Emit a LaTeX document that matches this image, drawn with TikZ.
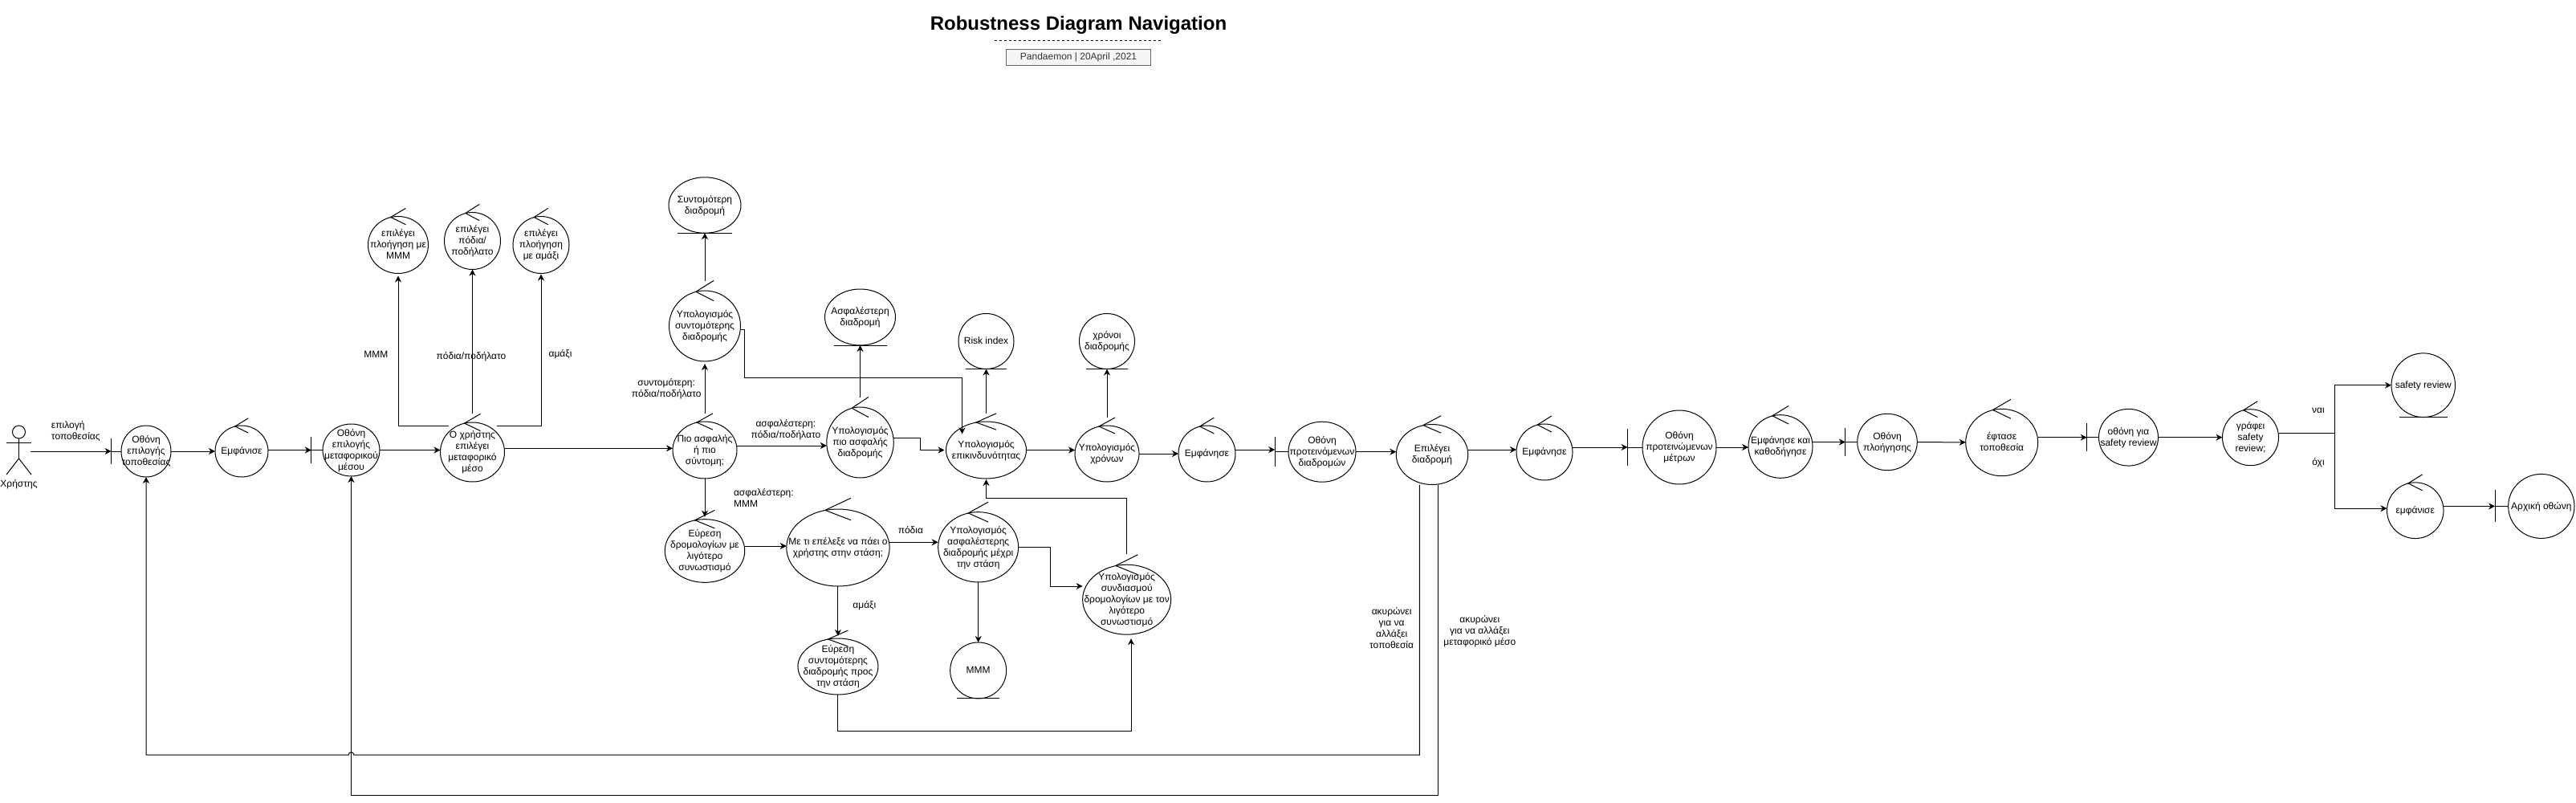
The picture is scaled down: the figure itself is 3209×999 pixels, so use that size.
\documentclass[tikz,border=0pt]{standalone}
\usepackage{fontspec}
\setmainfont{Liberation Sans}
\usepackage{xcolor}
\usetikzlibrary{arrows.meta,positioning,shapes.geometric}
\definecolor{stampfill}{HTML}{F5F5F5}
\definecolor{stampline}{HTML}{666666}
\definecolor{stamptext}{HTML}{333333}
\newcommand{\intxt}[1]{\smash{\makebox[0pt]{\raisebox{-4pt}{\begin{tabular}[c]{@{}c@{}}#1\end{tabular}}}}}

\begin{document}
\begin{tikzpicture}[x=1pt,y=-1pt,line width=1pt,>={Stealth[length=8pt,width=8pt,inset=2.5pt]},
 every node/.style={font=\fontsize{12}{14}\selectfont},
 blob/.style 2 args={ellipse,draw,inner sep=0pt,outer sep=0pt,minimum width=#1pt,minimum height=#2pt},
 ctl/.style 2 args={blob={#1}{#2},append after command={\pgfextra{
   \draw ([shift={(#1/8,-#2/7)}]\tikzlastnode.north) -- ([shift={(-#1/8,#2/70)}]\tikzlastnode.north) -- ([shift={(#1/8,#2/7)}]\tikzlastnode.north);}}},
 bnd/.style 2 args={blob={#1}{#2},append after command={\pgfextra{
   \draw (\tikzlastnode.west) -- ++(-#1/5,0) coordinate (\tikzlastnode-bar) ++(0,-#2/4) -- ++(0,#2/2);}}},
 ent/.style 2 args={blob={#1}{#2},append after command={\pgfextra{
   \draw ([xshift=-#1*0.375pt]\tikzlastnode.south) -- ([xshift=#1*0.375pt]\tikzlastnode.south);}}},
 tag/.style={inner sep=0pt,align=center},
 stamp/.style={draw=stampline,fill=stampfill,text=stamptext,minimum width=180pt,minimum height=20pt,inner sep=0pt},
 ar/.style={->}]
 \useasboundingbox (0,0) rectangle (3209,999);

 % title block
 \node[font=\bfseries\fontsize{24}{28}\selectfont,inner sep=0pt] (title) at (1343.5,31.5) {Robustness Diagram Navigation};
 \node[stamp,below=29pt of title.center] (stamp) {Pandaemon | 20April ,2021};
 \draw[dash pattern=on 3pt off 3pt] ([shift={(-105,-10)}]stamp.north) -- ++(207,0);

 % actor
 \node[circle,draw,inner sep=0pt,outer sep=0pt,minimum size=16pt] (user) at (23.5,538) {};
 \draw (user.south) -- ++(0,25) coordinate (userhip);
 \draw ([yshift=-5pt]user.south) ++(-15.5,0) -- ++(31,0);
 \draw (userhip) -- ++(-15.5,20) (userhip) -- ++(15.5,20);
 \node[below=3pt of userhip,yshift=-20pt] (userlabel) {Χρήστης};
 \coordinate (userout) at (38,562);

 % main row
 \node[bnd={62}{64}] (locscreen) at (182,562) {\intxt{Οθόνη\\επιλογής\\τοποθεσίας}};
 \node[ctl={66}{64},right=55pt of locscreen] (show1) {\intxt{Εμφάνισε}};
 \node[bnd={71}{65},right=68pt of show1,yshift=1.5pt] (modescreen) {\intxt{Οθόνη\\επιλογής\\μεταφορικού\\μέσου}};
 \node[ctl={80}{74},right=75.5pt of modescreen,yshift=-2.5pt] (choice) {\intxt{Ο χρήστης\\επιλέγει\\μεταφορικό\\μέσο}};
 \node[ctl={80}{71},right=209.5pt of choice,yshift=2.5pt] (safeorshort) {\intxt{Πιο ασφαλής\\ή πιο\\σύντομη;}};
 \node[ctl={83.5}{88},right=111.75pt of safeorshort,yshift=9.5pt] (safecalc) {\intxt{Υπολογισμός\\πιο ασφαλής\\διαδρομής}};
 \node[ctl={100}{71},right=65.25pt of safecalc,yshift=-9.5pt] (risk) {\intxt{Υπολογισμός\\επικινδυνότητας}};
 \node[ctl={80}{70},right=60.5pt of risk,yshift=-4.5pt] (timecalc) {\intxt{Υπολογισμός\\χρόνων}};
 \node[ctl={71}{70},right=49pt of timecalc] (show2) {\intxt{Εμφάνησε}};
 \node[bnd={84}{75},right=66pt of show2,yshift=2.3pt] (routes) {\intxt{Οθόνη\\προτεινόμενων\\διαδρομών}};
 \node[ctl={89.5}{75},right=50.25pt of routes,yshift=-3.3pt] (select) {\intxt{Επιλέγει\\διαδρομή}};
 \node[ctl={70}{70},right=60.25pt of select,yshift=3pt] (show3) {\intxt{Εμφάνησε}};
 \node[bnd={92}{92},right=87pt of show3,yshift=6pt] (tips) {\intxt{Οθόνη\\προτεινώμενων\\μέτρων}};
 \node[ctl={80}{78.6},right=40pt of tips,yshift=1pt] (guide) {\intxt{Εμφάνησε και\\καθοδήγησε}};
 \node[bnd={74.6}{70.4},right=55.7pt of guide,yshift=5.5pt] (nav) {\intxt{Οθόνη\\πλοήγησης}};
 \node[ctl={90}{83.4},right=60.4pt of nav,yshift=-.5pt] (arrived) {\intxt{έφτασε\\τοποθεσία}};
 \node[bnd={74}{70.7},right=75.8pt of arrived,yshift=6.3pt] (reviewscr) {\intxt{οθόνη για\\safety review}};
 \node[ctl={70}{70},right=80pt of reviewscr] (writes) {\intxt{γράφει\\safety\\review;}};
 \node[ent={79.5}{79.7},right=140.5pt of writes,yshift=65pt] (reviewent) {\intxt{safety review}};
 \node[ctl={70.5}{69.7},right=135pt of writes,yshift=-91pt] (exitshow) {\intxt{εμφάνισε}};
 \node[bnd={82.4}{80},right=80.6pt of exitshow,yshift=5.3pt] (homescr) {\intxt{Αρχική οθώνη}};

 % upper branches
 \node[ctl={70}{71},above=190.5pt of choice] (footpick) {\intxt{επιλέγει\\πόδια/\\ποδήλατο}};
 \node[ctl={75}{71},left=20pt of footpick,yshift=-5pt] (mmmpick) {\intxt{επιλέγει\\πλοήγηση με\\ΜΜΜ}};
 \node[ctl={70}{71},right=15.5pt of footpick,yshift=-5pt] (carpick) {\intxt{επιλέγει\\πλοήγηση\\με αμάξι}};
 \node[ctl={89}{88},above=75pt of safeorshort] (shortcalc) {\intxt{Υπολογισμός\\συντομότερης\\διαδρομής}};
 \node[ent={90}{69.5},above=71.75pt of shortcalc] (shortpath) {\intxt{Συντομότερη\\διαδρομή}};
 \node[ent={88}{70},above=77pt of safecalc] (safepath) {\intxt{Ασφαλέστερη\\διαδρομή}};
 \node[ent={69}{69},above=65.5pt of risk] (riskidx) {\intxt{Risk index}};
 \node[ent={69}{69},above=70.5pt of timecalc] (timeidx) {\intxt{χρόνοι\\διαδρομής}};

 % lower branches
 \node[ctl={99.5}{78.7},below=50.65pt of safeorshort] (busfind) {\intxt{Εύρεση\\δρομολογίων με\\λιγότερο\\συνωστισμό}};
 \node[ctl={128.4}{96},right=52pt of busfind,yshift=4pt] (question) {\intxt{Με τι επέλεξε να πάει ο\\χρήστης στην στάση;}};
 \node[ctl={100}{87.3},right=60.5pt of question,yshift=.7pt] (walkcalc) {\intxt{Υπολογισμός\\ασφαλέστερης\\διαδρομής μέχρι\\την στάση}};
 \node[ctl={110}{87},right=80pt of walkcalc,yshift=-65.4pt] (comb) {\intxt{Υπολογισμός\\συνδιασμού\\δρομολογίων με τον\\λιγότερο\\συνωστισμό}};
 \node[ent={70}{70},below=75pt of walkcalc] (mmmstop) {\intxt{ΜΜΜ}};
 \node[ctl={100}{70},below=65pt of question] (carfind) {\intxt{Εύρεση\\συντομότερης\\διαδρομής προς\\την στάση}};

 % main row connectors
 \draw[ar] (userout) -- node[tag,align=left,above=12pt,xshift=6pt]{επιλογή\\τοποθεσίας} (locscreen-bar);
 \draw[ar] (locscreen) -- (show1);
 \draw[ar] (show1.east |- modescreen-bar) -- (modescreen-bar);
 \draw[ar] (modescreen.east) -- (modescreen.east -| choice.west);
 \draw[ar] ([yshift=4.7pt]choice.east) -- ([yshift=2.2pt]safeorshort.west);
 \draw[ar] ([yshift=5.5pt]safeorshort.east) -- node[tag,above=7pt,xshift=5pt]{ασφαλέστερη:\\πόδια/ποδήλατο} ([yshift=-4pt]safecalc.west);
 \draw[ar] ([yshift=6pt]safecalc.east) -- ++(33,0) |- ([xshift=-2pt]risk.west);
 \draw[ar] (risk.east) -- (risk.east -| timecalc.west);
 \draw[ar] (timecalc) -- (show2);
 \draw[ar] ([yshift=5pt]show2.east) -- ([yshift=5pt]show2.east -| routes-bar);
 \draw[ar] (routes.east) -- (routes.east -| select.west);
 \draw[ar] ([yshift=6pt]select.east) -- ([yshift=3pt]show3.west);
 \draw[ar] (show3.east |- tips-bar) -- (tips-bar);
 \draw[ar] (tips.east) -- (tips.east -| guide.west);
 \draw[ar] (guide.east |- nav-bar) -- (nav-bar);
 \draw[ar] (nav) -- (arrived);
 \draw[ar] (arrived.east |- reviewscr-bar) -- (reviewscr-bar);
 \draw[ar] (reviewscr) -- (writes);
 \draw ([yshift=5pt]writes.east) -- ++(69.5,0) coordinate (fork);
 \draw[ar] (fork) |- (reviewent.west);
 \draw[ar] (fork) |- ([yshift=2.5pt]exitshow.west);
 \draw[ar] (exitshow.east |- homescr-bar) -- (homescr-bar);
 \node[tag] (tagyes) at (2888,511.3) {ναι};
 \node[tag] (tagno) at (2888,576.7) {όχι};

 % mode choice
 \draw[ar] ([shift={(-30,-33)}]choice.center) -| ([yshift=-3pt]mmmpick.south);
 \draw[ar] ([yshift=11pt]choice.north) -- (footpick.south);
 \draw[ar] ([shift={(30.5,-33)}]choice.center) -| ([yshift=-1pt]carpick.south);
 \node[tag] (tagmmm) at (468.4,441) {ΜΜΜ};
 \node[tag] (tagfoot) at (587,444) {πόδια/ποδήλατο};
 \node[tag] (tagcar) at (698,441) {αμάξι};

 % route calculations
 \draw[ar] ([yshift=10pt]safeorshort.north) -- node[tag,left=4pt]{συντομότερη:\\πόδια/ποδήλατο} ([yshift=-3pt]shortcalc.south);
 \draw[ar] ([yshift=12pt]shortcalc.north) -- (shortpath.south);
 \draw[ar] ([yshift=12pt]safecalc.north) -- (safepath.south);
 \draw[ar] ([yshift=-4pt]shortcalc.east) -- ++(5,0) -- ++(0,60.3) -| ([shift={(-30,-20)}]risk.center);
 \draw[ar] ([yshift=10pt]risk.north) -- (riskidx.south);
 \draw[ar] ([yshift=10pt]timecalc.north) -- (timeidx.south);
 \draw[ar] (safeorshort.south) -- node[tag,align=left,right=35.5pt]{ασφαλέστερη:\\ΜΜΜ} ([yshift=3pt]busfind.north);
 \draw[ar] ([yshift=6pt]busfind.east) -- ([yshift=2pt]question.west);
 \draw[ar] ([yshift=6.7pt]question.east) -- node[tag,above=10pt,xshift=-4pt]{πόδια} ([yshift=6pt]walkcalc.west);
 \draw[ar] (question.south) -- node[tag,right=18pt,yshift=7pt]{αμάξι} ([yshift=3pt]carfind.north);
 \draw[ar] (walkcalc.south) -- (mmmstop.north);
 \draw[ar] (walkcalc.east) -- ++(39.7,0) |- ([yshift=16.7pt]comb.west);
 \draw[ar] ([yshift=13pt]comb.north) -- ++(0,-69.7) -| ([yshift=-1pt]risk.south);
 \draw[ar] (carfind.south) -- ++(0,45) -| ([shift={(5.4,5)}]comb.south);

 % cancel loops
 \draw[ar] ([xshift=-15.7pt]select.south) -- ++(0,336.5) -- ++(-1327.5,0) arc[start angle=0,end angle=180,radius=3.3pt] -| (locscreen.south);
 \draw[ar] ([xshift=7.7pt]select.south) -- ++(0,386.5) -| (modescreen.south);
 \node[tag] (tagloc) at (1733.6,781.7) {ακυρώνει\\για να\\αλλάξει\\τοποθεσία};
 \node[tag] (tagmode) at (1843.3,786.3) {ακυρώνει\\για να αλλάξει\\μεταφορικό μέσο};
\end{tikzpicture}
\end{document}
